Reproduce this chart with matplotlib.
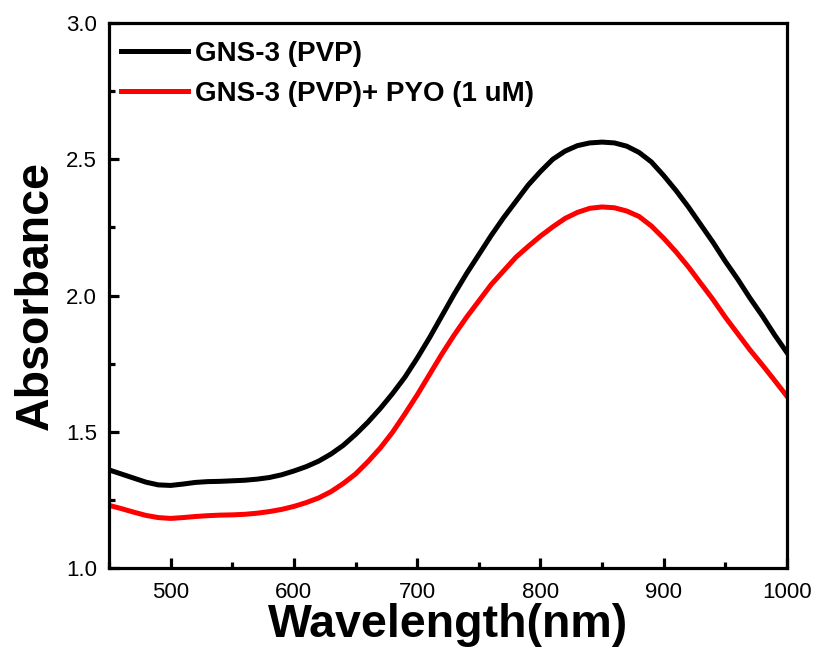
import matplotlib
matplotlib.use("Agg")
import matplotlib.pyplot as plt
from matplotlib.ticker import MultipleLocator

plt.rcParams['font.family'] = ['Liberation Sans', 'DejaVu Sans']

# wavelength grid (nm) and absorbance
wavelength = list(range(450, 1001, 10))
abs_pvp = [1.360, 1.345, 1.330, 1.315, 1.305, 1.303, 1.308, 1.314, 1.317, 1.318,
           1.320, 1.322, 1.326, 1.332, 1.342, 1.356, 1.372, 1.392, 1.418, 1.450,
           1.490, 1.535, 1.585, 1.640, 1.700, 1.770, 1.845, 1.925, 2.005, 2.080,
           2.150, 2.220, 2.285, 2.345, 2.405, 2.455, 2.500, 2.530, 2.550, 2.560,
           2.563, 2.560, 2.548, 2.525, 2.490, 2.440, 2.385, 2.325, 2.260, 2.195,
           2.125, 2.060, 1.990, 1.925, 1.855, 1.790]
abs_pyo = [1.230, 1.218, 1.205, 1.193, 1.185, 1.182, 1.185, 1.189, 1.192, 1.194,
           1.195, 1.197, 1.201, 1.207, 1.215, 1.226, 1.240, 1.257, 1.280, 1.310,
           1.345, 1.390, 1.440, 1.498, 1.565, 1.635, 1.710, 1.785, 1.855, 1.920,
           1.980, 2.040, 2.090, 2.140, 2.180, 2.218, 2.252, 2.283, 2.305, 2.320,
           2.325, 2.322, 2.310, 2.290, 2.255, 2.210, 2.160, 2.105, 2.045, 1.985,
           1.920, 1.860, 1.800, 1.745, 1.688, 1.630]
labels = ["GNS-3 (PVP)", "GNS-3 (PVP)+ PYO (1 uM)"]

fig = plt.figure(figsize=(8.17, 6.54), dpi=100)
ax = fig.add_axes([0.1334, 0.1315, 0.8299, 0.8333])

ax.plot(wavelength, abs_pvp, color="black", lw=3.6, label=labels[0])
ax.plot(wavelength, abs_pyo, color="#ff0000", lw=3.6, label=labels[1])

ax.set_xlim(450, 1000)
ax.set_ylim(1.0, 3.0)
ax.xaxis.set_major_locator(MultipleLocator(100))
ax.xaxis.set_minor_locator(MultipleLocator(50))
ax.yaxis.set_major_locator(MultipleLocator(0.5))
ax.yaxis.set_minor_locator(MultipleLocator(0.25))

for s in ax.spines.values():
    s.set_linewidth(2.3)
ax.tick_params(which="major", direction="in", length=7, width=2.3, labelsize=16)
ax.tick_params(which="minor", direction="in", length=4, width=2.3)
ax.tick_params(axis="x", pad=10)
ax.tick_params(axis="y", pad=8.5)

ax.set_xlabel("Wavelength(nm)", fontsize=33.5, fontweight="bold", labelpad=0)
ax.set_ylabel("Absorbance", fontsize=33.5, fontweight="bold", labelpad=6)

leg = ax.legend(loc="upper left", frameon=False, handlelength=2.4, handletextpad=0.25,
                prop={"size": 20, "weight": "bold"}, bbox_to_anchor=(0.0, 0.99),
                borderaxespad=0.15, borderpad=0.3, labelspacing=0.5)

fig.savefig("out.png", dpi=100)
